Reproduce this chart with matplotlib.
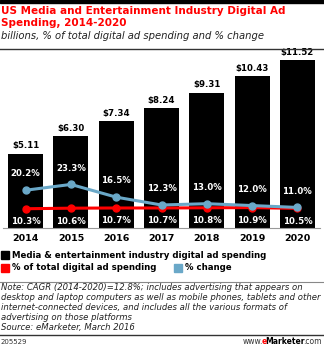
import numpy as np
import matplotlib
matplotlib.use('Agg')
import matplotlib.pyplot as plt
from matplotlib.patches import Rectangle
from matplotlib.lines import Line2D

# Spending data (billions) and the two percentage series
years = ['2014', '2015', '2016', '2017', '2018', '2019', '2020']
spending = [5.11, 6.30, 7.34, 8.24, 9.31, 10.43, 11.52]
share_pct = [10.3, 10.6, 10.7, 10.7, 10.8, 10.9, 10.5]
change_pct = [20.2, 23.3, 16.5, 12.3, 13.0, 12.0, 11.0]

RED = '#ff0000'
BLUE = '#6aa8c8'
W, H = 324, 347


def fy(px):
    return 1 - px / H


def fx(px):
    return px / W


fig = plt.figure(figsize=(W / 100, H / 100), dpi=100)
fig.patch.set_facecolor('white')

# header
fig.patches.append(Rectangle((0, fy(2.5)), 1, 2.5 / H, transform=fig.transFigure,
                             color='black', zorder=5))
fig.text(fx(1), fy(11), 'US Media and Entertainment Industry Digital Ad',
         color=RED, fontsize=7.5, fontweight='bold', va='center', ha='left')
fig.text(fx(1), fy(23), 'Spending, 2014-2020',
         color=RED, fontsize=7.5, fontweight='bold', va='center', ha='left')
fig.text(fx(1), fy(36), 'billions, % of total digital ad spending and % change',
         color='#222222', fontsize=7.2, style='italic', va='center', ha='left')
fig.add_artist(Line2D([0, 1], [fy(49), fy(49)], transform=fig.transFigure,
                      color='#333333', lw=1.0))

# main plot
ax = fig.add_axes([fx(3), fy(228), fx(317), 178 / H])
x = np.arange(len(years))
bars = ax.bar(x, spending, width=0.77, color='black', zorder=2)
ax.set_xlim(-0.5, len(years) - 0.5)
ax.set_ylim(0, 178 / 14.55)
for b, v in zip(bars, spending):
    ax.annotate(f'${v:.2f}', (b.get_x() + b.get_width() / 2, v),
                xytext=(0, 2.5), textcoords='offset points', ha='center', va='bottom',
                fontsize=6.2, fontweight='bold', color='black')

for s in ax.spines.values():
    s.set_visible(False)
ax.spines['bottom'].set_visible(True)
ax.spines['bottom'].set_color('#999999')
ax.spines['bottom'].set_linewidth(0.8)
ax.set_yticks([])
ax.set_xticks(x)
ax.set_xticklabels(years, fontsize=6.8, fontweight='bold')
ax.tick_params(axis='x', length=0, pad=4)

ax2 = ax.twinx()
ax2.set_ylim(0, 178 / 1.87)
ax2.set_yticks([])
for s in ax2.spines.values():
    s.set_visible(False)
ax2.plot(x, share_pct, color=RED, lw=2.2, marker='o', ms=5, zorder=3)
ax2.plot(x, change_pct, color=BLUE, lw=2.2, marker='o', ms=5, zorder=4)
for xi, v in zip(x, share_pct):
    ax2.annotate(f'{v:.1f}%', (xi, v), xytext=(0, -6), textcoords='offset points',
                 ha='center', va='top', fontsize=6.2, fontweight='bold', color='white')
for xi, v in zip(x, change_pct):
    ax2.annotate(f'{v:.1f}%', (xi, v), xytext=(0, 8.5), textcoords='offset points',
                 ha='center', va='bottom', fontsize=6.2, fontweight='bold', color='white')


# legend
def legend_item(px, py, color, label):
    fig.patches.append(Rectangle((fx(px), fy(py + 4)), fx(8), 8 / H,
                                 transform=fig.transFigure, color=color))
    fig.text(fx(px + 11), fy(py), label, fontsize=6.25, fontweight='bold',
             va='center', ha='left', color='black')


legend_item(1, 255, 'black', 'Media & entertainment industry digital ad spending')
legend_item(1, 268, RED, '% of total digital ad spending')
legend_item(174, 268, BLUE, '% change')

fig.add_artist(Line2D([0, 1], [fy(282), fy(282)], transform=fig.transFigure,
                      color='#888888', lw=0.8))
note = ['Note: CAGR (2014-2020)=12.8%; includes advertising that appears on',
        'desktop and laptop computers as well as mobile phones, tablets and other',
        'internet-connected devices, and includes all the various formats of',
        'advertising on those platforms',
        'Source: eMarketer, March 2016']
for i, line in enumerate(note):
    fig.text(fx(1), fy(287 + i * 10.2), line, fontsize=6.1, style='italic',
             va='center', ha='left', color='#222222')

fig.add_artist(Line2D([0, 1], [fy(335), fy(335)], transform=fig.transFigure,
                      color='#333333', lw=1.0))
fig.text(fx(1), fy(341.5), '205529', fontsize=5.0, va='center', ha='left', color='#333333')

# footer url, built right to left so the pieces butt together
r = fig.canvas.get_renderer()
right = 322
for piece, color, weight in [('.com', '#333333', 'normal'),
                             ('Marketer', 'black', 'bold'),
                             ('e', RED, 'bold'),
                             ('www.', '#333333', 'normal')]:
    t = fig.text(right / W, fy(341.5), piece, fontsize=5.5, va='center', ha='right',
                 color=color, fontweight=weight)
    right = t.get_window_extent(r).x0 + 1.5

fig.savefig('out.png', dpi=100)
